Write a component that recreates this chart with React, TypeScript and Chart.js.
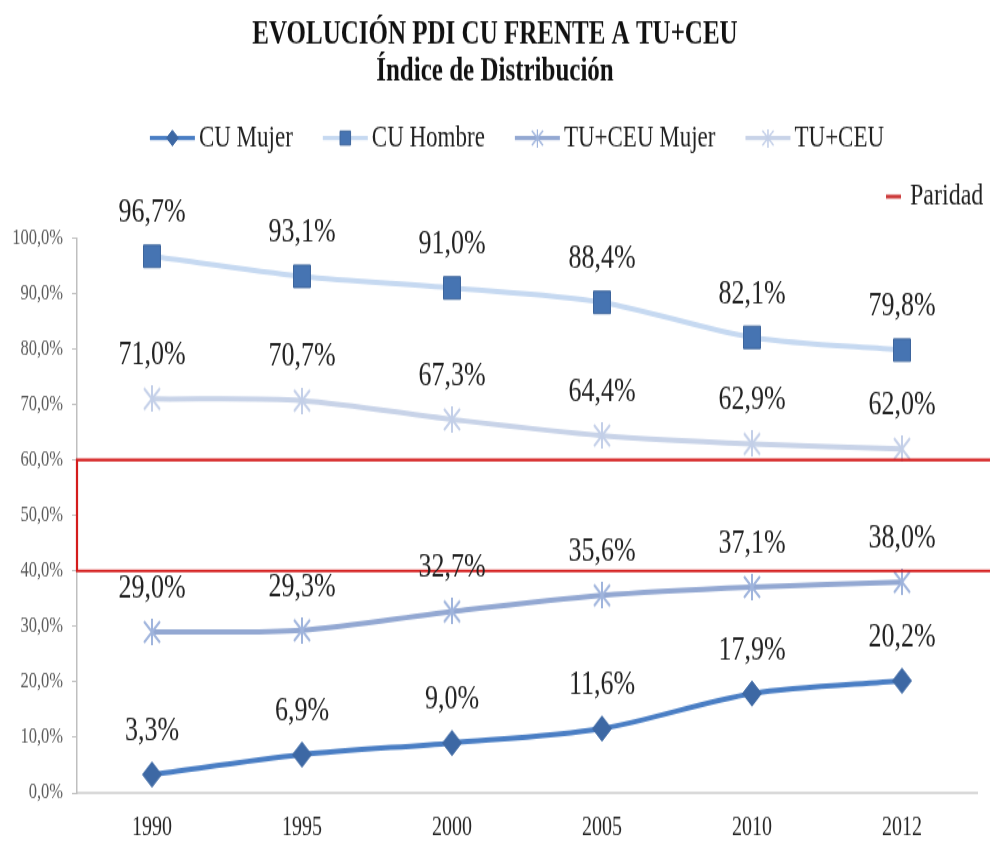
import { useEffect, useRef } from 'react';
import { Chart, registerables } from 'chart.js';
import { drawPoint } from 'chart.js/helpers';

Chart.register(...registerables);

const years = ['1990', '1995', '2000', '2005', '2010', '2012'];
const cuMujer = [3.3, 6.9, 9.0, 11.6, 17.9, 20.2];
const cuHombre = [96.7, 93.1, 91.0, 88.4, 82.1, 79.8];
const tuceuMujer = [29.0, 29.3, 32.7, 35.6, 37.1, 38.0];
const tuceu = [71.0, 70.7, 67.3, 64.4, 62.9, 62.0];
const seriesNames = ['CU Mujer', 'CU Hombre', 'TU+CEU Mujer', 'TU+CEU'];
const titleLines = ['EVOLUCIÓN PDI CU FRENTE A TU+CEU', 'Índice de Distribución'];
const parityBand = [40, 60];
const parityLabel = 'Paridad';
const yMin = 0;
const yMax = 100;
const yStep = 10;

const FONT = "'Liberation Serif', 'Times New Roman', serif";
const W = 990;
const H_INTERNAL = 639;
const H_DISPLAY = 843;

const fmt = (v: number) => v.toFixed(1).replace('.', ',') + '%';

function makeStar(color: string) {
  const c = document.createElement('canvas');
  c.width = 20;
  c.height = 20;
  const g = c.getContext('2d')!;
  g.strokeStyle = color;
  g.lineWidth = 2;
  g.beginPath();
  g.moveTo(2, 2);
  g.lineTo(18, 18);
  g.moveTo(18, 2);
  g.lineTo(2, 18);
  g.moveTo(10, 0);
  g.lineTo(10, 20);
  g.stroke();
  return c;
}

const decor = {
  id: 'decor',
  afterDatasetsDraw(chart: any) {
    const ctx = chart.ctx;
    const area = chart.chartArea;
    const y = chart.scales.y;
    const top = y.getPixelForValue(parityBand[1]);
    const bot = y.getPixelForValue(parityBand[0]);
    ctx.save();
    ctx.strokeStyle = '#d41c1c';
    ctx.lineWidth = 2.2;
    ctx.beginPath();
    ctx.moveTo(chart.width + 5, top);
    ctx.lineTo(area.left, top);
    ctx.lineTo(area.left, bot);
    ctx.lineTo(chart.width + 5, bot);
    ctx.stroke();
    ctx.restore();

    ctx.save();
    ctx.font = `26px ${FONT}`;
    ctx.fillStyle = '#222222';
    ctx.textAlign = 'center';
    ctx.textBaseline = 'middle';
    chart.data.datasets.forEach((ds: any, i: number) => {
      const meta = chart.getDatasetMeta(i);
      meta.data.forEach((pt: any, j: number) => {
        ctx.fillText(fmt(ds.data[j]), pt.x, pt.y - 33);
      });
    });
    ctx.restore();
  },
  afterDraw(chart: any) {
    const ctx = chart.ctx;
    ctx.save();
    ctx.fillStyle = '#111111';
    ctx.textAlign = 'center';
    ctx.textBaseline = 'middle';
    ctx.font = `bold 25px ${FONT}`;
    ctx.fillText(titleLines[0], W / 2, 26.5);
    ctx.fillText(titleLines[1], W / 2, 54.6);

    ctx.font = `23px ${FONT}`;
    const lineLen = 45;
    const textGap = 4;
    const itemGap = 30;
    const widths = seriesNames.map((n) => ctx.measureText(n).width);
    const total = widths.reduce((a, b) => a + b, 0) + seriesNames.length * (lineLen + textGap) + itemGap * (seriesNames.length - 1);
    let x = 517 - total / 2;
    const ly = 104.6;
    chart.data.datasets.forEach((ds: any, i: number) => {
      ctx.strokeStyle = ds.borderColor;
      ctx.lineWidth = 3.2;
      ctx.beginPath();
      ctx.moveTo(x, ly);
      ctx.lineTo(x + lineLen, ly);
      ctx.stroke();
      const cx = x + lineLen / 2;
      if (typeof ds.pointStyle === 'string') {
        ctx.fillStyle = ds.pointBackgroundColor;
        ctx.strokeStyle = ds.pointBorderColor;
        ctx.lineWidth = ds.pointBorderWidth;
        drawPoint(ctx, { pointStyle: ds.pointStyle, rotation: 0, radius: ds.pointRadius * 0.62, borderWidth: ds.pointBorderWidth }, cx, ly);
      } else {
        ctx.drawImage(ds.pointStyle, cx - 7, ly - 7, 14, 14);
      }
      ctx.fillStyle = '#222222';
      ctx.textAlign = 'left';
      ctx.fillText(seriesNames[i], x + lineLen + textGap, ly);
      x += lineLen + textGap + widths[i] + itemGap;
    });

    const py = 149;
    ctx.strokeStyle = '#cc3a3a';
    ctx.lineWidth = 3;
    ctx.beginPath();
    ctx.moveTo(886, py);
    ctx.lineTo(901, py);
    ctx.stroke();
    ctx.fillStyle = '#222222';
    ctx.font = `24px ${FONT}`;
    ctx.textAlign = 'left';
    ctx.fillText(parityLabel, 910, py);
    ctx.restore();
  },
};

export default function App() {
  const ref = useRef<HTMLCanvasElement | null>(null);

  useEffect(() => {
    document.body.style.margin = '0';
    const canvas = ref.current!;
    const starDark = makeStar('#9fb4dc');
    const starLight = makeStar('#c3cfe8');
    const chart = new Chart(canvas, {
      type: 'line',
      data: {
        labels: years,
        datasets: [
          {
            label: seriesNames[0],
            data: cuMujer,
            borderColor: '#4a7ec4',
            borderWidth: 4,
            tension: 0.3,
            pointStyle: 'rectRot',
            pointRadius: 9.5,
            pointBackgroundColor: '#3d68a4',
            pointBorderColor: '#3d68a4',
            pointBorderWidth: 1,
          },
          {
            label: seriesNames[1],
            data: cuHombre,
            borderColor: '#c6d9f1',
            borderWidth: 4,
            tension: 0.3,
            pointStyle: 'rect',
            pointRadius: 12,
            pointBackgroundColor: '#4674b2',
            pointBorderColor: '#3d659c',
            pointBorderWidth: 1,
          },
          {
            label: seriesNames[2],
            data: tuceuMujer,
            borderColor: '#93a8d2',
            borderWidth: 4,
            tension: 0.3,
            pointStyle: starDark as any,
            pointRadius: 10,
            pointBackgroundColor: '#9fb4dc',
            pointBorderColor: '#9fb4dc',
            pointBorderWidth: 2,
          },
          {
            label: seriesNames[3],
            data: tuceu,
            borderColor: '#c8d3e8',
            borderWidth: 4,
            tension: 0.3,
            pointStyle: starLight as any,
            pointRadius: 10,
            pointBackgroundColor: '#c3cfe8',
            pointBorderColor: '#c3cfe8',
            pointBorderWidth: 2,
          },
        ],
      },
      options: {
        responsive: false,
        animation: false,
        devicePixelRatio: 1,
        layout: { padding: { top: 180.4, right: 12, left: 0, bottom: 0 } },
        plugins: {
          legend: { display: false },
          title: { display: false },
          tooltip: { enabled: false },
        },
        scales: {
          x: {
            offset: true,
            grid: { display: true, drawOnChartArea: false, drawTicks: false },
            border: { display: true, color: '#d9d9d9', width: 2 },
            ticks: {
              autoSkip: false,
              maxRotation: 0,
              padding: 15,
              color: '#262626',
              font: { family: FONT, size: 20 },
            },
            afterFit: (s: any) => {
              s.height = 38;
            },
          },
          y: {
            min: yMin,
            max: yMax,
            grid: { display: true, drawOnChartArea: false, drawTicks: true, tickLength: 5, color: '#bfbfbf' },
            border: { display: true, color: '#bfbfbf', width: 1.5 },
            ticks: {
              stepSize: yStep,
              padding: 9,
              color: '#595959',
              font: { family: FONT, size: 16.5 },
              callback: (v: any) => fmt(Number(v)),
            },
            afterFit: (s: any) => {
              s.width = 77;
            },
          },
        },
      },
      plugins: [decor],
    });
    return () => chart.destroy();
  }, []);

  return (
    <canvas
      ref={ref}
      width={W}
      height={H_INTERNAL}
      style={{ display: 'block', width: `${W}px`, height: `${H_DISPLAY}px` }}
    />
  );
}
